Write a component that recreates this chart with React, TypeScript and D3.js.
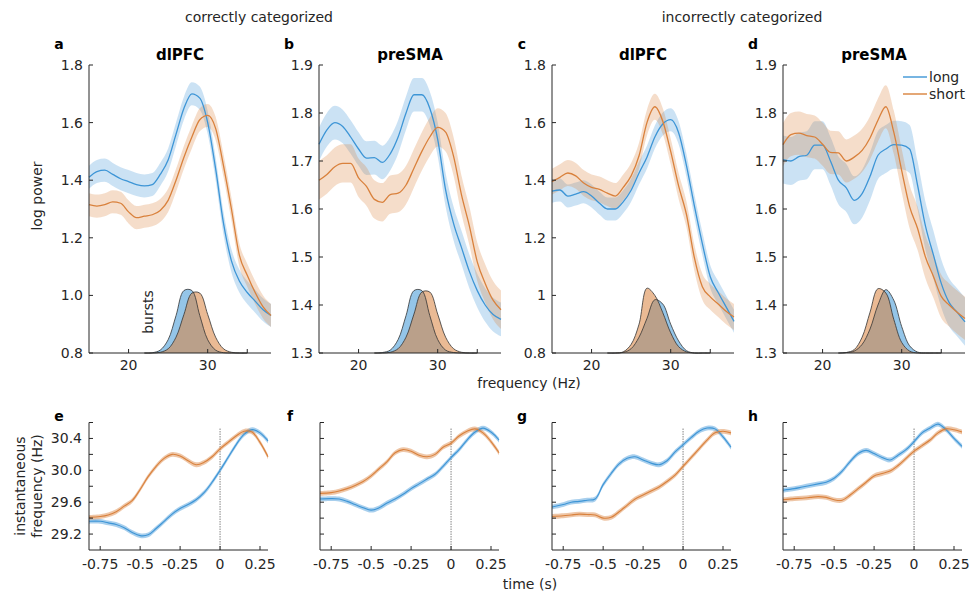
import React from 'react'
import * as d3 from 'd3'

// frequency grid (Hz) for the power spectra
const freqs = [15, 16, 17, 18, 19, 20, 21, 22, 23, 24, 25, 26, 27, 28, 29, 30, 31, 32, 33, 34, 35, 36, 37, 38]

// log power, correctly categorized
const aLong = [1.41, 1.43, 1.435, 1.42, 1.405, 1.395, 1.385, 1.38, 1.385, 1.42, 1.47, 1.56, 1.65, 1.70, 1.685, 1.60, 1.44, 1.25, 1.12, 1.05, 1.01, 0.98, 0.95, 0.93]
const aShort = [1.315, 1.31, 1.315, 1.325, 1.32, 1.29, 1.27, 1.275, 1.28, 1.295, 1.33, 1.40, 1.48, 1.55, 1.61, 1.625, 1.58, 1.45, 1.30, 1.14, 1.07, 1.01, 0.96, 0.93]
const bLong = [1.735, 1.765, 1.78, 1.772, 1.75, 1.725, 1.706, 1.707, 1.697, 1.715, 1.75, 1.80, 1.838, 1.838, 1.81, 1.745, 1.64, 1.57, 1.52, 1.47, 1.43, 1.40, 1.38, 1.37]
const bShort = [1.66, 1.672, 1.688, 1.695, 1.695, 1.665, 1.647, 1.62, 1.614, 1.63, 1.633, 1.65, 1.685, 1.72, 1.75, 1.77, 1.76, 1.71, 1.63, 1.565, 1.49, 1.445, 1.41, 1.39]
// log power, incorrectly categorized
const cLong = [1.362, 1.366, 1.345, 1.352, 1.36, 1.345, 1.32, 1.30, 1.30, 1.325, 1.365, 1.425, 1.48, 1.55, 1.595, 1.61, 1.565, 1.45, 1.31, 1.18, 1.065, 1.01, 0.96, 0.91]
const cShort = [1.395, 1.41, 1.425, 1.415, 1.39, 1.375, 1.368, 1.355, 1.345, 1.375, 1.415, 1.485, 1.60, 1.655, 1.605, 1.50, 1.38, 1.28, 1.13, 1.03, 0.995, 0.97, 0.945, 0.925]
const dLong = [1.703, 1.70, 1.709, 1.712, 1.733, 1.733, 1.70, 1.66, 1.644, 1.618, 1.632, 1.668, 1.712, 1.725, 1.734, 1.733, 1.725, 1.65, 1.565, 1.505, 1.445, 1.405, 1.385, 1.365]
const dShort = [1.734, 1.755, 1.758, 1.753, 1.75, 1.735, 1.718, 1.717, 1.70, 1.708, 1.722, 1.748, 1.785, 1.813, 1.76, 1.68, 1.605, 1.56, 1.50, 1.46, 1.418, 1.40, 1.385, 1.372]

// burst frequency distributions (height above the axis floor)
const burstFreqs = [22, 23, 24, 25, 26, 27, 28, 29, 30, 31, 32, 33, 34, 35]
const aLongBursts = [0, 0.001, 0.01, 0.046, 0.13, 0.217, 0.217, 0.13, 0.046, 0.01, 0.001, 0, 0, 0]
const aShortBursts = [0, 0, 0.0025, 0.0145, 0.055, 0.134, 0.208, 0.208, 0.134, 0.055, 0.0145, 0.0025, 0, 0]
const bLongBursts = [0, 0.001, 0.006, 0.028, 0.078, 0.13, 0.13, 0.078, 0.028, 0.006, 0.001, 0, 0, 0]
const bShortBursts = [0, 0, 0.0015, 0.009, 0.033, 0.081, 0.127, 0.127, 0.081, 0.033, 0.009, 0.0015, 0, 0]
const cLongBursts = [0, 0, 0.002, 0.015, 0.055, 0.12, 0.185, 0.17, 0.1, 0.042, 0.008, 0, 0, 0]
const cShortBursts = [0, 0, 0.004, 0.03, 0.1, 0.225, 0.2, 0.14, 0.07, 0.022, 0.004, 0, 0, 0]
const dLongBursts = [0, 0.001, 0.004, 0.018, 0.05, 0.1, 0.132, 0.11, 0.055, 0.015, 0.002, 0, 0, 0]
const dShortBursts = [0, 0.001, 0.007, 0.033, 0.085, 0.134, 0.125, 0.07, 0.022, 0.004, 0, 0, 0, 0]

// time grid (s) for instantaneous frequency
const times = [-0.82, -0.75, -0.7, -0.65, -0.6, -0.55, -0.5, -0.45, -0.4, -0.35, -0.3, -0.25, -0.2, -0.15, -0.1, -0.05, 0, 0.05, 0.1, 0.15, 0.2, 0.25, 0.3]
const eLong = [29.36, 29.36, 29.34, 29.32, 29.28, 29.22, 29.18, 29.19, 29.27, 29.36, 29.45, 29.52, 29.57, 29.63, 29.72, 29.85, 30.0, 30.16, 30.32, 30.45, 30.51, 30.47, 30.37]
const eShort = [29.41, 29.42, 29.44, 29.48, 29.55, 29.62, 29.76, 29.92, 30.05, 30.15, 30.20, 30.18, 30.12, 30.07, 30.10, 30.17, 30.27, 30.35, 30.43, 30.49, 30.48, 30.35, 30.17]
const fLong = [29.64, 29.645, 29.64, 29.61, 29.57, 29.53, 29.50, 29.53, 29.59, 29.64, 29.70, 29.77, 29.83, 29.89, 29.95, 30.05, 30.16, 30.26, 30.38, 30.48, 30.53, 30.48, 30.38]
const fShort = [29.71, 29.72, 29.74, 29.77, 29.81, 29.86, 29.93, 30.02, 30.11, 30.22, 30.26, 30.24, 30.19, 30.17, 30.2, 30.29, 30.34, 30.43, 30.49, 30.52, 30.47, 30.36, 30.22]
const gLong = [29.54, 29.57, 29.6, 29.61, 29.625, 29.64, 29.82, 29.96, 30.08, 30.15, 30.17, 30.13, 30.09, 30.07, 30.12, 30.23, 30.32, 30.41, 30.49, 30.53, 30.52, 30.42, 30.29]
const gShort = [29.42, 29.43, 29.44, 29.45, 29.445, 29.44, 29.40, 29.41, 29.48, 29.56, 29.64, 29.69, 29.74, 29.79, 29.86, 29.94, 30.05, 30.16, 30.27, 30.38, 30.47, 30.49, 30.47]
const hLong = [29.75, 29.77, 29.79, 29.81, 29.83, 29.85, 29.90, 29.99, 30.11, 30.21, 30.25, 30.21, 30.16, 30.13, 30.19, 30.26, 30.36, 30.47, 30.53, 30.58, 30.51, 30.40, 30.30]
const hShort = [29.63, 29.645, 29.65, 29.66, 29.67, 29.66, 29.63, 29.625, 29.69, 29.77, 29.85, 29.93, 29.96, 29.99, 30.06, 30.15, 30.24, 30.31, 30.38, 30.47, 30.52, 30.51, 30.48]

const freqTicks = [20, 30, 35]
const freqLabels = ['20', '30', '']
const timeTicks = [-0.75, -0.5, -0.25, 0, 0.25]
const timeLabels = ['-0.75', '-0.5', '-0.25', '0', '0.25']
const ifTicks = [29.2, 29.4, 29.6, 29.8, 30.0, 30.2, 30.4, 30.6]
const ifLabels = ['29.2', '', '29.6', '', '30.0', '', '30.4', '']

const BLUE = '#3d95d6'
const ORANGE = '#d9813c'
const INK = '#262626'
const FONT = '"DejaVu Sans", Verdana, sans-serif'

const topPanels = [
  { letter: 'a', title: 'dlPFC', left: 89, yDomain: [0.8, 1.8], yTicks: [0.8, 1.0, 1.2, 1.4, 1.6, 1.8], yLabels: ['0.8', '1.0', '1.2', '1.4', '1.6', '1.8'],
    long: aLong, short: aShort, longSem: 0.04, shortSem: 0.04, longBursts: aLongBursts, shortBursts: aShortBursts },
  { letter: 'b', title: 'preSMA', left: 319, yDomain: [1.3, 1.9], yTicks: [1.3, 1.4, 1.5, 1.6, 1.7, 1.8, 1.9], yLabels: ['1.3', '1.4', '1.5', '1.6', '1.7', '1.8', '1.9'],
    long: bLong, short: bShort, longSem: 0.035, shortSem: 0.04, longBursts: bLongBursts, shortBursts: bShortBursts },
  { letter: 'c', title: 'dlPFC', left: 552, yDomain: [0.8, 1.8], yTicks: [0.8, 1.0, 1.2, 1.4, 1.6, 1.8], yLabels: ['0.8', '1', '1.2', '1.4', '1.6', '1.8'],
    long: cLong, short: cShort, longSem: 0.04, shortSem: 0.045, longBursts: cLongBursts, shortBursts: cShortBursts },
  { letter: 'd', title: 'preSMA', left: 783, yDomain: [1.3, 1.9], yTicks: [1.3, 1.4, 1.5, 1.6, 1.7, 1.8, 1.9], yLabels: ['1.3', '1.4', '1.5', '1.6', '1.7', '1.8', '1.9'],
    long: dLong, short: dShort, longSem: 0.05, shortSem: 0.045, longBursts: dLongBursts, shortBursts: dShortBursts },
]

const bottomPanels = [
  { letter: 'e', left: 89, long: eLong, short: eShort, labels: true },
  { letter: 'f', left: 320, long: fLong, short: fShort, labels: false },
  { letter: 'g', left: 552, long: gLong, short: gShort, labels: false },
  { letter: 'h', left: 783, long: hLong, short: hShort, labels: false },
]

const TOP_Y0 = 353
const TOP_Y1 = 65
const TOP_W = 182
const BOT_Y0 = 550
const BOT_Y1 = 422.5
const BOT_W = 179
const TICK = 4

function SpectrumPanel({ p }: { p: typeof topPanels[number] }) {
  const x = d3.scaleLinear().domain([15, 38]).range([p.left, p.left + TOP_W])
  const y = d3.scaleLinear().domain(p.yDomain).range([TOP_Y0, TOP_Y1])
  const floor = p.yDomain[0]

  const band = (vals: number[], sem: number) =>
    d3.area<number>().x((_, i) => x(freqs[i])).y0(d => y(d - sem)).y1(d => y(d + sem)).curve(d3.curveMonotoneX)(vals) || ''
  const line = (vals: number[]) =>
    d3.line<number>().x((_, i) => x(freqs[i])).y(d => y(d)).curve(d3.curveMonotoneX)(vals) || ''
  const burstArea = (vals: number[]) =>
    d3.area<number>().x((_, i) => x(burstFreqs[i])).y0(y(floor)).y1(d => y(floor + Math.max(0, d))).curve(d3.curveCatmullRom)(vals) || ''
  const burstEdge = (vals: number[]) =>
    d3.line<number>().x((_, i) => x(burstFreqs[i])).y(d => y(floor + Math.max(0, d))).curve(d3.curveCatmullRom)(vals) || ''

  return (
    <g>
      <path d={burstArea(p.longBursts)} fill={BLUE} fillOpacity={0.55} />
      <path d={burstArea(p.shortBursts)} fill={ORANGE} fillOpacity={0.55} />
      <path d={burstEdge(p.longBursts)} fill="none" stroke="#333" strokeWidth={0.8} />
      <path d={burstEdge(p.shortBursts)} fill="none" stroke="#333" strokeWidth={0.8} />

      <path d={band(p.long, p.longSem)} fill={BLUE} fillOpacity={0.27} />
      <path d={band(p.short, p.shortSem)} fill={ORANGE} fillOpacity={0.27} />
      <path d={line(p.long)} fill="none" stroke={BLUE} strokeWidth={1.3} />
      <path d={line(p.short)} fill="none" stroke={ORANGE} strokeWidth={1.3} />

      {/* axes */}
      <line x1={p.left} x2={p.left} y1={TOP_Y1} y2={TOP_Y0} stroke={INK} />
      <line x1={p.left} x2={p.left + TOP_W} y1={TOP_Y0} y2={TOP_Y0} stroke={INK} />
      {p.yTicks.map((t, i) => (
        <g key={t}>
          <line x1={p.left} x2={p.left + TICK} y1={y(t)} y2={y(t)} stroke={INK} />
          <text x={p.left - 6} y={y(t)} dy="0.35em" textAnchor="end" fontSize={14} fill={INK}>{p.yLabels[i]}</text>
        </g>
      ))}
      {freqTicks.map((t, i) => (
        <g key={t}>
          <line x1={x(t)} x2={x(t)} y1={TOP_Y0} y2={TOP_Y0 - TICK} stroke={INK} />
          <text x={x(t)} y={TOP_Y0 + 17} textAnchor="middle" fontSize={14} fill={INK}>{freqLabels[i]}</text>
        </g>
      ))}
      <text x={p.left + TOP_W / 2} y={60} textAnchor="middle" fontSize={15} fontWeight="bold" fill="#000">{p.title}</text>
      <text x={p.left - 30} y={49} textAnchor="middle" fontSize={14} fontWeight="bold" fill="#000">{p.letter}</text>
    </g>
  )
}

function FrequencyPanel({ p }: { p: typeof bottomPanels[number] }) {
  const x = d3.scaleLinear().domain([-0.82, 0.3]).range([p.left, p.left + BOT_W])
  const y = d3.scaleLinear().domain([29.0, 30.6]).range([BOT_Y0, BOT_Y1])
  const sem = 0.03

  const band = (vals: number[]) =>
    d3.area<number>().x((_, i) => x(times[i])).y0(d => y(d - sem)).y1(d => y(d + sem)).curve(d3.curveCatmullRom)(vals) || ''
  const line = (vals: number[]) =>
    d3.line<number>().x((_, i) => x(times[i])).y(d => y(d)).curve(d3.curveCatmullRom)(vals) || ''

  return (
    <g>
      <line x1={x(0)} x2={x(0)} y1={BOT_Y1 + 6} y2={BOT_Y0} stroke="#666" strokeWidth={0.8} strokeDasharray="1.5,1" />
      <path d={band(p.long)} fill={BLUE} fillOpacity={0.45} />
      <path d={band(p.short)} fill={ORANGE} fillOpacity={0.45} />
      <path d={line(p.long)} fill="none" stroke={BLUE} strokeWidth={1.1} />
      <path d={line(p.short)} fill="none" stroke={ORANGE} strokeWidth={1.1} />

      <line x1={p.left} x2={p.left} y1={BOT_Y1} y2={BOT_Y0} stroke={INK} />
      <line x1={p.left} x2={p.left + BOT_W} y1={BOT_Y0} y2={BOT_Y0} stroke={INK} />
      {ifTicks.map((t, i) => (
        <g key={t}>
          <line x1={p.left} x2={p.left + TICK} y1={y(t)} y2={y(t)} stroke={INK} />
          {p.labels && ifLabels[i] && (
            <text x={p.left - 7} y={y(t)} dy="0.35em" textAnchor="end" fontSize={14} fill={INK}>{ifLabels[i]}</text>
          )}
        </g>
      ))}
      {timeTicks.map((t, i) => (
        <g key={t}>
          <line x1={x(t)} x2={x(t)} y1={BOT_Y0} y2={BOT_Y0 - TICK} stroke={INK} />
          <text x={x(t)} y={BOT_Y0 + 19} textAnchor="middle" fontSize={14} fill={INK}>{timeLabels[i]}</text>
        </g>
      ))}
      <text x={p.left - 30} y={421} textAnchor="middle" fontSize={14} fontWeight="bold" fill="#000">{p.letter}</text>
    </g>
  )
}

export default function App() {
  return (
    <svg width={972} height={596} style={{ position: 'absolute', left: 0, top: 0, background: '#fff' }} fontFamily={FONT}>
      <rect width={972} height={596} fill="#fff" />
      <text x={259} y={22} textAnchor="middle" fontSize={14} fill={INK}>correctly categorized</text>
      <text x={742} y={22} textAnchor="middle" fontSize={14} fill={INK}>incorrectly categorized</text>

      {topPanels.map(p => <SpectrumPanel key={p.letter} p={p} />)}
      {bottomPanels.map(p => <FrequencyPanel key={p.letter} p={p} />)}

      <text transform="translate(42,196) rotate(-90)" textAnchor="middle" fontSize={14} fill={INK}>log power</text>
      <text transform="translate(153,312) rotate(-90)" textAnchor="middle" fontSize={14} fill={INK}>bursts</text>
      <text x={529} y={388} textAnchor="middle" fontSize={14} fill={INK}>frequency (Hz)</text>
      <text x={530} y={589} textAnchor="middle" fontSize={14} fill={INK}>time (s)</text>
      <text transform="translate(25,486) rotate(-90)" textAnchor="middle" fontSize={14} fill={INK}>instantaneous</text>
      <text transform="translate(42,486) rotate(-90)" textAnchor="middle" fontSize={14} fill={INK}>frequency (Hz)</text>

      {/* legend */}
      <line x1={903} x2={927} y1={77} y2={77} stroke={BLUE} strokeWidth={1.4} />
      <text x={929} y={77} dy="0.35em" fontSize={14} fill={INK}>long</text>
      <line x1={903} x2={927} y1={94} y2={94} stroke={ORANGE} strokeWidth={1.4} />
      <text x={929} y={94} dy="0.35em" fontSize={14} fill={INK}>short</text>
    </svg>
  )
}
